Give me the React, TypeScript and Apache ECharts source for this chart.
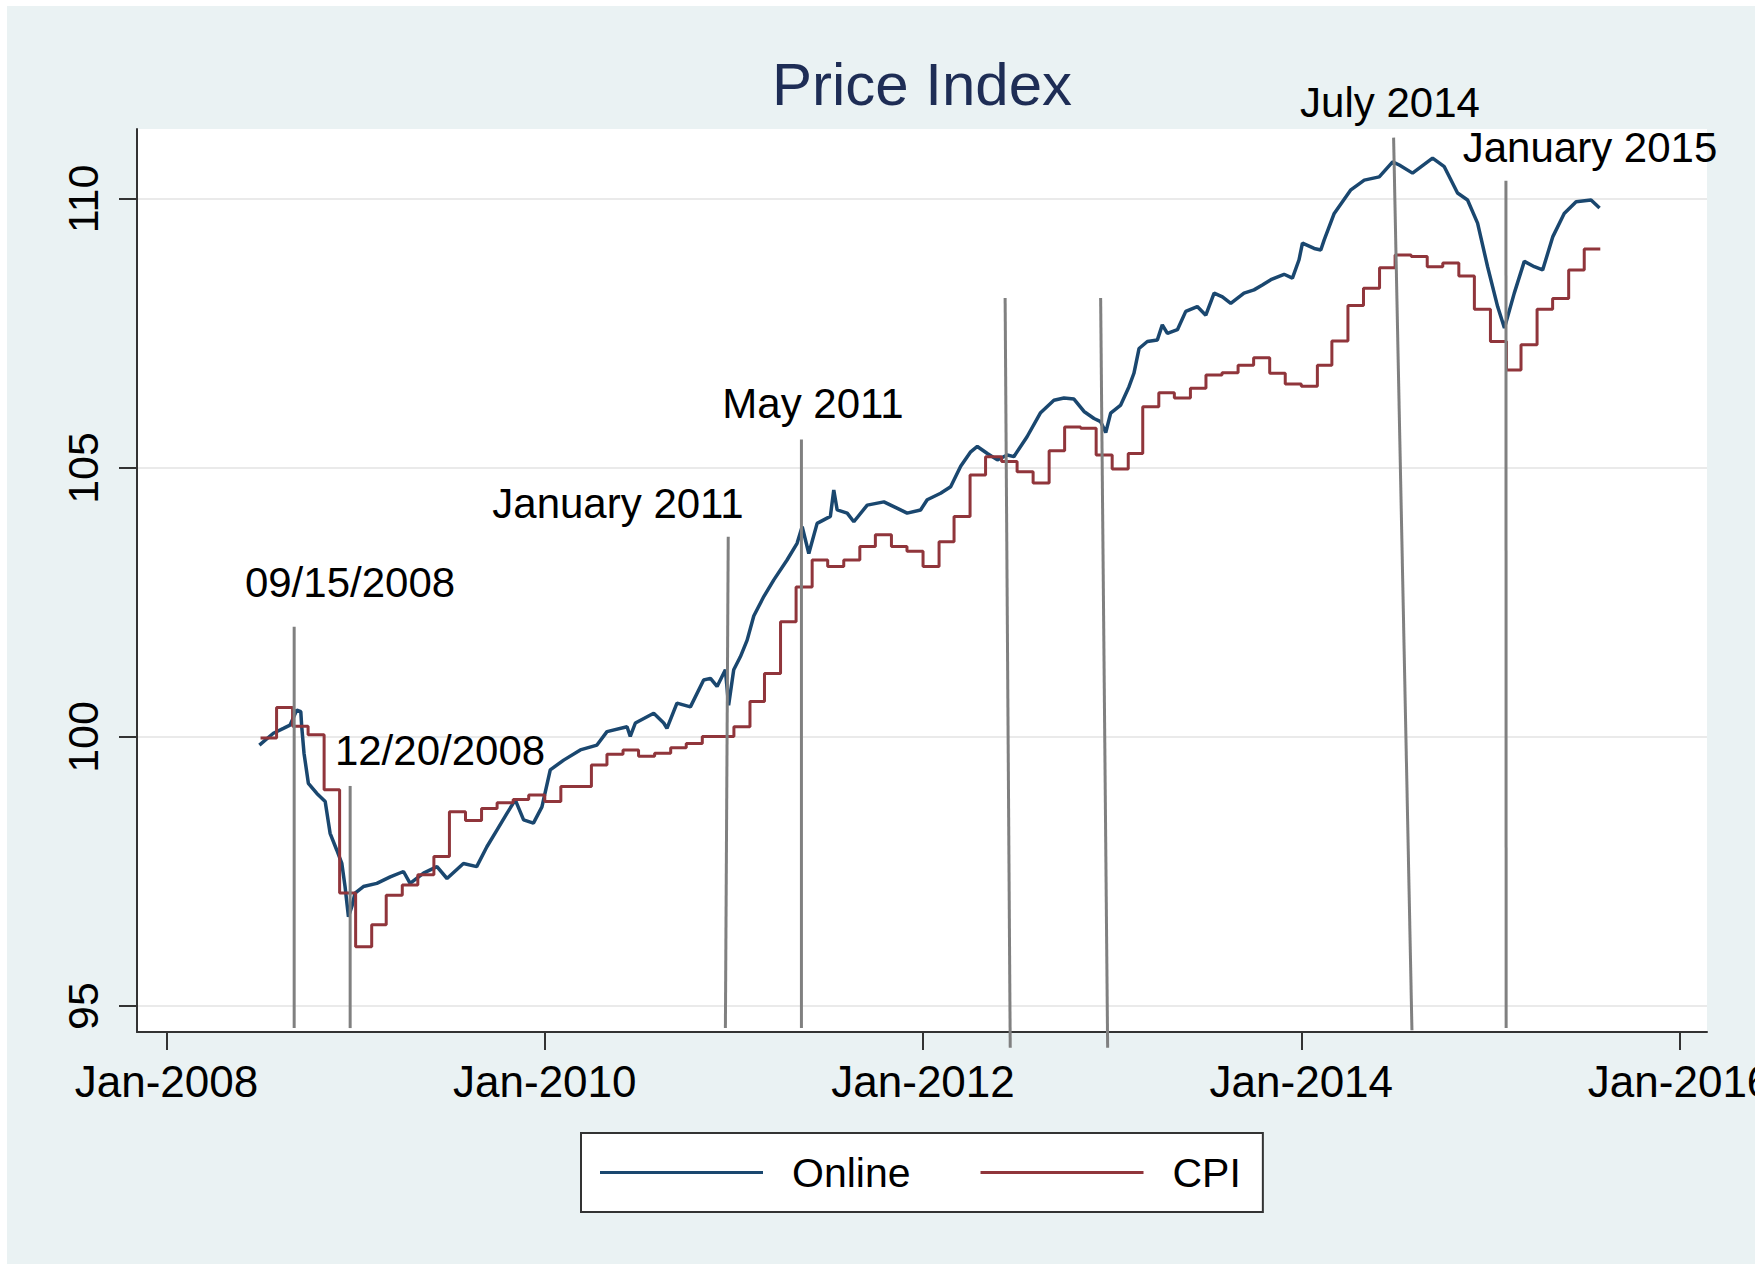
import React, { useEffect, useRef } from "react";
import * as echarts from "echarts";

// ---------- data ----------
const xTicks = [2008, 2010, 2012, 2014, 2016];
const yTicks = [95, 100, 105, 110];

// Online price index: [decimal year, index]
const online: [number, number][] = [
  [2008.491, 99.85], [2008.565, 100.07], [2008.618, 100.16], [2008.653, 100.22],
  [2008.689, 100.5], [2008.71, 100.47], [2008.715, 100.19], [2008.727, 99.7],
  [2008.75, 99.14], [2008.795, 98.95], [2008.839, 98.8], [2008.865, 98.21],
  [2008.9, 97.9], [2008.927, 97.65], [2008.944, 97.22], [2008.962, 96.66],
  [2008.98, 96.85], [2008.997, 97.1], [2009.041, 97.22], [2009.112, 97.28],
  [2009.183, 97.4], [2009.253, 97.5], [2009.288, 97.28], [2009.359, 97.47],
  [2009.43, 97.59], [2009.483, 97.37], [2009.57, 97.65], [2009.64, 97.59],
  [2009.694, 97.96], [2009.747, 98.27], [2009.8, 98.58], [2009.844, 98.83],
  [2009.888, 98.46], [2009.94, 98.4], [2009.985, 98.7], [2010.029, 99.39],
  [2010.1, 99.57], [2010.188, 99.76], [2010.276, 99.85], [2010.329, 100.1],
  [2010.435, 100.19], [2010.452, 100.01], [2010.479, 100.26], [2010.576, 100.44],
  [2010.629, 100.26], [2010.646, 100.16], [2010.699, 100.63], [2010.77, 100.56],
  [2010.84, 101.06], [2010.876, 101.09], [2010.911, 100.94], [2010.955, 101.25],
  [2010.972, 100.59], [2010.999, 101.25], [2011.034, 101.49], [2011.07, 101.8],
  [2011.105, 102.25], [2011.158, 102.61], [2011.211, 102.92], [2011.281, 103.29],
  [2011.334, 103.6], [2011.361, 103.91], [2011.396, 103.41], [2011.44, 103.97],
  [2011.51, 104.1], [2011.528, 104.59], [2011.546, 104.22], [2011.599, 104.16],
  [2011.634, 104.0], [2011.705, 104.31], [2011.793, 104.37], [2011.881, 104.22],
  [2011.916, 104.16], [2011.987, 104.22], [2012.022, 104.41], [2012.093, 104.53],
  [2012.146, 104.65], [2012.199, 105.03], [2012.252, 105.3], [2012.287, 105.4],
  [2012.34, 105.27], [2012.393, 105.15], [2012.445, 105.24], [2012.48, 105.21],
  [2012.55, 105.58], [2012.62, 106.02], [2012.692, 106.26], [2012.745, 106.3],
  [2012.798, 106.28], [2012.851, 106.05], [2012.904, 105.92], [2012.939, 105.86],
  [2012.966, 105.66], [2012.992, 106.02], [2013.045, 106.17], [2013.089, 106.51],
  [2013.115, 106.76], [2013.142, 107.22], [2013.186, 107.35], [2013.239, 107.38],
  [2013.265, 107.66], [2013.292, 107.5], [2013.345, 107.57], [2013.389, 107.91],
  [2013.45, 108.0], [2013.495, 107.84], [2013.539, 108.25], [2013.583, 108.18],
  [2013.627, 108.06], [2013.697, 108.25], [2013.75, 108.31], [2013.794, 108.4],
  [2013.839, 108.5], [2013.909, 108.6], [2013.953, 108.53], [2013.988, 108.87],
  [2014.006, 109.18], [2014.068, 109.08], [2014.103, 109.05], [2014.121, 109.24],
  [2014.174, 109.73], [2014.262, 110.17], [2014.333, 110.35], [2014.412, 110.41],
  [2014.483, 110.69], [2014.518, 110.63], [2014.588, 110.48], [2014.694, 110.76],
  [2014.756, 110.6], [2014.826, 110.11], [2014.879, 109.98], [2014.932, 109.55],
  [2014.985, 108.74], [2015.038, 108.0], [2015.074, 107.6], [2015.126, 108.25],
  [2015.179, 108.84], [2015.232, 108.74], [2015.276, 108.68], [2015.33, 109.3],
  [2015.39, 109.73], [2015.453, 109.95], [2015.532, 109.98], [2015.577, 109.83],
];

// CPI, monthly, starting July 2008 (value holds for the month)
const cpiStartYear = 2008;
const cpiStartMonth = 7;
const cpiValues = [
  // 2008 Jul-Dec
  99.98, 100.55, 100.2, 100.04, 99.02, 97.1,
  // 2009
  96.1, 96.51, 97.06, 97.25, 97.44, 97.78, 98.61, 98.45, 98.67, 98.78, 98.84, 98.92,
  // 2010
  98.8, 99.08, 99.08, 99.48, 99.68, 99.76, 99.64, 99.7, 99.8, 99.88, 100.01, 100.01,
  // 2011
  100.19, 100.66, 101.18, 102.14, 102.79, 103.29, 103.17, 103.29, 103.54, 103.76, 103.54, 103.45,
  // 2012
  103.17, 103.63, 104.1, 104.87, 105.21, 105.12, 104.93, 104.72, 105.32, 105.76, 105.74, 105.24,
  // 2013
  104.98, 105.27, 106.14, 106.4, 106.3, 106.48, 106.73, 106.77, 106.91, 107.05, 106.76, 106.56,
  // 2014
  106.52, 106.91, 107.36, 108.02, 108.34, 108.72, 108.96, 108.93, 108.74, 108.81, 108.57, 107.95,
  // 2015 Jan-Jul
  107.35, 106.82, 107.29, 107.95, 108.15, 108.68, 109.07,
];

// Event lines: [decimal year, index] top and bottom
const eventNames = ["09/15/2008", "12/20/2008", "January 2011", "May 2011", "", "", "July 2014", "January 2015"];
const eventTops: [number, number][] = [
  [2008.675, 102.05], [2008.971, 99.09], [2010.97, 103.72], [2011.357, 105.53],
  [2012.434, 108.16], [2012.939, 108.16], [2014.488, 111.14], [2015.082, 110.34],
];
const eventBottoms: [number, number][] = [
  [2008.675, 94.59], [2008.971, 94.59], [2010.955, 94.59], [2011.357, 94.59],
  [2012.461, 94.225], [2012.976, 94.225], [2014.585, 94.55], [2015.083, 94.59],
];

// ---------- helpers ----------
function decYear(y: number, m: number) {
  const s = Date.UTC(y, 0, 1);
  const e = Date.UTC(y + 1, 0, 1);
  return y + (Date.UTC(y, m - 1, 1) - s) / (e - s);
}

const cpiData: [number, number][] = cpiValues.map((v, i) => {
  const mi = cpiStartMonth - 1 + i;
  return [decYear(cpiStartYear + Math.floor(mi / 12), (mi % 12) + 1), v];
});
{
  const mi = cpiStartMonth - 1 + cpiValues.length;
  cpiData.push([decYear(cpiStartYear + Math.floor(mi / 12), (mi % 12) + 1), cpiValues[cpiValues.length - 1]]);
}

// label layout (pixel positions inside the chart)
const labelPos: [number, number][] = [
  [343, 576], [433, 744], [611, 497], [806, 397], [0, 0], [0, 0], [1383, 96], [1583, 141],
];

const FONT = "Arial, 'Liberation Sans', sans-serif";

export default function App() {
  const ref = useRef<HTMLDivElement>(null);

  useEffect(() => {
    if (!ref.current) return;
    const chart = echarts.init(ref.current, undefined, { renderer: "svg" });

    const eventSeries = eventTops.map((t, i) => ({
      type: "line",
      name: "event" + i,
      data: [t, eventBottoms[i]],
      symbol: "none",
      clip: false,
      silent: true,
      z: 5,
      lineStyle: { color: "#808080", width: 3 },
      itemStyle: { color: "#808080" },
    }));

    const labels = eventNames
      .map((n, i) => ({ n, i }))
      .filter((o) => o.n !== "")
      .map(({ n, i }) => ({
        type: "text",
        x: labelPos[i][0],
        y: labelPos[i][1],
        z: 10,
        style: {
          text: n,
          fill: "#000",
          font: `42px ${FONT}`,
          textAlign: "center",
          textVerticalAlign: "middle",
        },
      }));

    chart.setOption({
      animation: false,
      backgroundColor: "#eaf2f3",
      title: {
        text: "Price Index",
        left: 915,
        top: 48,
        textAlign: "center",
        padding: 0,
        textStyle: { fontSize: 60, fontWeight: "normal", color: "#1e2d55", fontFamily: FONT },
      },
      grid: {
        left: 130,
        top: 123,
        width: 1570,
        height: 903,
        show: true,
        backgroundColor: "#ffffff",
        borderWidth: 0,
        containLabel: false,
        outerBoundsMode: "none",
      },
      legend: {
        data: ["Online", "CPI"],
        left: 574,
        top: 1127,
        orient: "horizontal",
        icon: "rect",
        itemWidth: 163,
        itemHeight: 3,
        itemGap: 70,
        backgroundColor: "#ffffff",
        borderColor: "#333333",
        borderWidth: 2,
        borderRadius: 0,
        padding: [19, 22, 19, 19],
        textStyle: { fontSize: 41, fontFamily: FONT, color: "#000", padding: [0, 0, 0, 24] },
      },
      xAxis: {
        type: "value",
        min: 2007.844,
        max: 2016.145,
        axisLine: { show: true, lineStyle: { color: "#333", width: 2 } },
        axisTick: { show: true, length: 18, lineStyle: { color: "#333", width: 2 }, customValues: xTicks },
        axisLabel: {
          customValues: xTicks,
          formatter: (v: number) => "Jan-" + Math.round(v),
          fontSize: 44,
          fontFamily: FONT,
          color: "#000",
          margin: 27,
          hideOverlap: false,
        },
        splitLine: { show: false },
      },
      yAxis: {
        type: "value",
        min: 94.517,
        max: 111.3,
        axisLine: { show: true, lineStyle: { color: "#333", width: 2 } },
        axisTick: { show: true, length: 18, lineStyle: { color: "#333", width: 2 }, customValues: yTicks },
        axisLabel: {
          customValues: yTicks,
          rotate: 90,
          fontSize: 43,
          fontFamily: FONT,
          color: "#000",
          margin: 33,
        },
        splitLine: { show: true, lineStyle: { color: "#eaeaea", width: 2 } },
      },
      series: [
        {
          name: "Online",
          type: "line",
          data: online,
          symbol: "none",
          z: 3,
          lineStyle: { color: "#1a476f", width: 3.5 },
          itemStyle: { color: "#1a476f" },
        },
        {
          name: "CPI",
          type: "line",
          step: "end",
          data: cpiData,
          symbol: "none",
          z: 4,
          lineStyle: { color: "#90353b", width: 3 },
          itemStyle: { color: "#90353b" },
        },
        ...eventSeries,
      ],
      graphic: labels,
    });

    return () => chart.dispose();
  }, []);

  return (
    <div style={{ position: "absolute", left: 0, top: 0, width: 1764, height: 1264, background: "#ffffff" }}>
      <div ref={ref} style={{ position: "absolute", left: 7, top: 6, width: 1748, height: 1258 }} />
    </div>
  );
}
